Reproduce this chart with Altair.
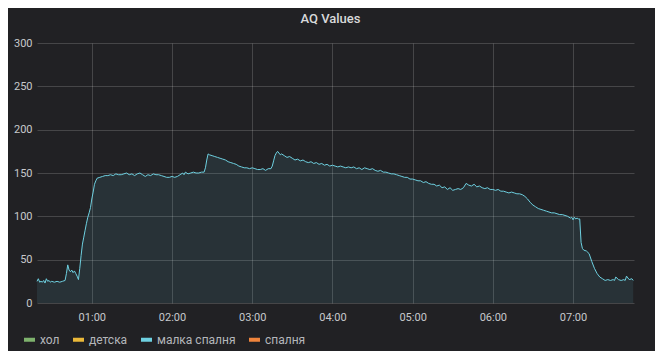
import altair as alt
import pandas as pd

series_names = ["хол", "детска", "малка спалня", "спалня"]
series_colors = ["#7EB26D", "#EAB839", "#6ED0E0", "#EF843C"]

times = [
    "00:19", "00:20", "00:21", "00:22", "00:23", "00:24", "00:25", "00:26", "00:27", "00:28",
    "00:29", "00:30", "00:32", "00:34", "00:36", "00:38", "00:40", "00:41", "00:42", "00:43",
    "00:44", "00:45", "00:46", "00:47", "00:48", "00:49", "00:50", "00:51", "00:52", "00:53",
    "00:54", "00:55", "00:56", "00:57", "00:58", "00:59", "01:00", "01:01", "01:02", "01:03",
    "01:04", "01:06", "01:08", "01:10", "01:12", "01:14", "01:16", "01:18", "01:20", "01:22",
    "01:24", "01:26", "01:28", "01:30", "01:32", "01:34", "01:36", "01:38", "01:40", "01:42",
    "01:44", "01:46", "01:48", "01:50", "01:52", "01:54", "01:56", "01:58", "02:00", "02:02",
    "02:04", "02:06", "02:08", "02:09", "02:10", "02:12", "02:14", "02:16", "02:18", "02:20",
    "02:22", "02:24", "02:25", "02:26", "02:27", "02:28", "02:30", "02:32", "02:34", "02:36",
    "02:38", "02:40", "02:42", "02:44", "02:46", "02:48", "02:50", "02:52", "02:54", "02:56",
    "02:58", "03:00", "03:02", "03:04", "03:06", "03:08", "03:10", "03:12", "03:14", "03:15",
    "03:16", "03:17", "03:18", "03:19", "03:20", "03:21", "03:22", "03:24", "03:26", "03:28",
    "03:30", "03:32", "03:34", "03:36", "03:38", "03:40", "03:42", "03:44", "03:46", "03:48",
    "03:50", "03:52", "03:54", "03:56", "03:58", "04:00", "04:02", "04:04", "04:06", "04:08",
    "04:10", "04:12", "04:14", "04:16", "04:18", "04:20", "04:22", "04:24", "04:26", "04:28",
    "04:30", "04:32", "04:34", "04:36", "04:38", "04:40", "04:42", "04:44", "04:46", "04:48",
    "04:50", "04:52", "04:54", "04:56", "04:58", "05:00", "05:02", "05:04", "05:06", "05:08",
    "05:10", "05:12", "05:14", "05:16", "05:18", "05:20", "05:22", "05:24", "05:26", "05:28",
    "05:30", "05:32", "05:34", "05:36", "05:38", "05:40", "05:42", "05:44", "05:46", "05:48",
    "05:50", "05:52", "05:54", "05:56", "05:58", "06:00", "06:02", "06:04", "06:06", "06:08",
    "06:10", "06:12", "06:14", "06:16", "06:18", "06:20", "06:22", "06:24", "06:26", "06:28",
    "06:30", "06:32", "06:34", "06:36", "06:38", "06:40", "06:42", "06:44", "06:46", "06:48",
    "06:50", "06:52", "06:54", "06:56", "06:58", "06:59", "07:00", "07:01", "07:02", "07:03",
    "07:04", "07:05", "07:06", "07:07", "07:08", "07:10", "07:12", "07:14", "07:16", "07:18",
    "07:20", "07:22", "07:24", "07:26", "07:28", "07:30", "07:31", "07:32", "07:34", "07:36",
    "07:38", "07:39", "07:40", "07:42", "07:44", "07:45",
]

values = [
    25, 28, 24, 25, 24, 26, 23, 28, 25, 26,
    24, 25, 24, 25, 24, 25, 26, 34, 44, 38,
    36, 38, 35, 37, 34, 31, 27, 40, 55, 68,
    76, 84, 92, 99, 104, 110, 120, 128, 137, 141,
    144, 145, 146, 147, 147, 148, 147, 149, 148, 148,
    149, 150, 148, 149, 147, 149, 150, 148, 146, 148,
    147, 149, 148, 148, 147, 146, 145, 145, 146, 145,
    146, 148, 150, 148, 151, 149, 150, 151, 150, 150,
    151, 151, 156, 165, 172, 171, 170, 169, 168, 167,
    166, 165, 163, 162, 161, 160, 158, 157, 156, 156,
    155, 156, 155, 154, 154, 155, 153, 155, 155, 158,
    164, 170, 173, 175, 173, 171, 172, 170, 168, 169,
    167, 165, 166, 164, 165, 163, 162, 163, 161, 162,
    160, 161, 159, 160, 158, 159, 158, 157, 158, 157,
    156, 157, 156, 157, 155, 156, 154, 156, 155, 154,
    155, 153, 152, 153, 151, 151, 150, 149, 149, 148,
    147, 146, 145, 145, 143, 143, 142, 141, 141, 139,
    140, 138, 137, 137, 135, 136, 133, 134, 131, 133,
    130, 131, 132, 131, 133, 138, 136, 135, 137, 134,
    135, 133, 132, 133, 131, 131, 130, 131, 129, 129,
    128, 127, 128, 127, 126, 126, 125, 123, 120, 116,
    113, 111, 109, 108, 107, 106, 105, 104, 104, 103,
    102, 102, 101, 100, 98, 99, 96, 99, 97, 98,
    97, 97, 70, 63, 61, 60, 57, 48, 40, 34,
    30, 28, 26, 27, 26, 27, 26, 30, 27, 26,
    27, 26, 31, 27, 28, 26,
]

# x-axis window: 00:19 .. 07:45:36 on 2020-01-01 (UTC), as epoch milliseconds
x_start_ms = 1577837940000
x_end_ms = 1577864736000

df = pd.DataFrame({
    "time": ["2020-01-01T" + t + ":00Z" for t in times],
    "value": values,
    "series": ["малка спалня"] * len(times),
})

FONT = "Roboto"

color_scale = alt.Scale(domain=series_names, range=series_colors)
x_scale = alt.Scale(type="utc", domain=[x_start_ms, x_end_ms])

x_enc = alt.X(
    "time:T",
    scale=x_scale,
    axis=alt.Axis(
        title=None, format="%H:%M", tickCount="hour",
        grid=True, ticks=False, domain=False, labelPadding=8,
    ),
)
y_enc = alt.Y(
    "value:Q",
    scale=alt.Scale(domain=[0, 300], nice=False),
    axis=alt.Axis(
        title=None, values=[0, 50, 100, 150, 200, 250, 300],
        grid=True, ticks=False, domain=False, labelPadding=5,
    ),
)

legend = alt.Legend(
    title=None, orient="none", legendX=-15, legendY=289,
    direction="horizontal", symbolType="stroke", symbolStrokeWidth=4,
    symbolSize=121, columnPadding=5, labelOffset=3, padding=0,
    labelFontSize=12, labelFont=FONT, labelColor="#b4b7bb",
    values=series_names,
)
color_enc = alt.Color("series:N", scale=color_scale, legend=legend)

base = alt.Chart(df)

area = base.mark_area(opacity=0.1, interpolate="linear").encode(
    x=x_enc, y=y_enc, color=color_enc,
)

line = base.mark_line(strokeWidth=1, interpolate="linear").encode(
    x=x_enc, y=y_enc, color=color_enc,
)

chart = (
    alt.layer(area, line)
    .properties(
        width=597, height=260,
        autosize=alt.AutoSizeParams(type="none"),
        padding={"left": 29, "top": 35, "right": 21, "bottom": 48},
        background="#212124",
        title=alt.TitleParams(
            "AQ Values", anchor="middle", fontSize=13, fontWeight=500, frame="group",
            font=FONT, color="#d8d9da", baseline="top", offset=11, dx=-5,
        ),
    )
    .configure_view(stroke=None)
    .configure_axis(
        gridColor="#ffffff", gridOpacity=0.17, labelColor="#c7c9cc",
        labelFont=FONT, labelFontSize=11,
    )
    .configure_legend(symbolOpacity=1)
)

chart.save("out.html", embed_options={"renderer": "svg", "actions": False})
